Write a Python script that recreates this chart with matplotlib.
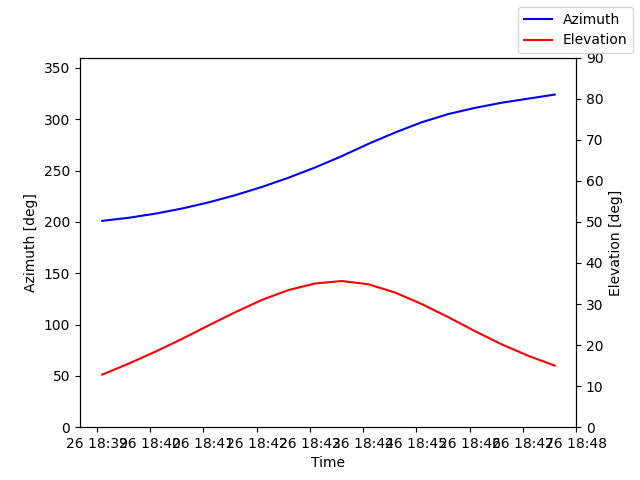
import datetime as dt
import matplotlib
matplotlib.use("Agg")
import matplotlib.pyplot as plt
import matplotlib.dates as mdates

start = dt.datetime(2024, 1, 26, 18, 39, 6)
times = [start + dt.timedelta(seconds=30 * i) for i in range(18)]
azimuth = [201, 204, 208, 213, 219, 226, 234, 243, 253, 264, 276, 287, 297, 305, 311, 316, 320, 324]
elevation = [12.8, 15.5, 18.4, 21.5, 24.8, 28.0, 31.0, 33.4, 35.0, 35.6, 34.8, 32.8, 30.0, 26.8, 23.4, 20.2, 17.4, 15.0]

fig, ax = plt.subplots(figsize=(6.4, 4.8), dpi=100)
ax.plot(times, azimuth, color='blue', label='Azimuth')
ax.set_ylim(0, 360)
ax.set_ylabel('Azimuth [deg]')
ax.set_xlabel('Time')
ax.set_xlim(dt.datetime(2024, 1, 26, 18, 38, 41), dt.datetime(2024, 1, 26, 18, 48, 0))
ax.xaxis.set_major_locator(mdates.MinuteLocator())
ax.xaxis.set_major_formatter(mdates.DateFormatter('%d %H:%M'))

ax2 = ax.twinx()
ax2.plot(times, elevation, color='red', label='Elevation')
ax2.set_ylim(0, 90)
ax2.set_ylabel('Elevation [deg]')

fig.legend(loc='upper right')
fig.savefig('out.png')
